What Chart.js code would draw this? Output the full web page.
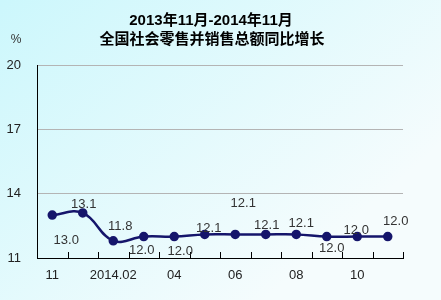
<!DOCTYPE html>
<html>
<head>
<meta charset="utf-8">
<script src="https://cdn.jsdelivr.net/npm/chart.js@4/dist/chart.umd.min.js"></script>
<style>
  html, body { margin: 0; padding: 0; background: #fff; }
  #chart { display: block; }
</style>
</head>
<body>
<canvas id="chart" width="441" height="300"></canvas>
<script>
// 2013.11 - 2014.11 months (1-2 merged as 2014.02)
const months = ['11', '12', '2014.02', '03', '04', '05', '06', '07', '08', '09', '10', '11'];
const growth = [13.0, 13.1, 11.8, 12.0, 12.0, 12.1, 12.1, 12.1, 12.1, 12.0, 12.0, 12.0];
const yTicks = [11, 14, 17, 20];
const titleLines = ['2013年11月-2014年11月', '全国社会零售并销售总额同比增长'];

// where each value label sits relative to its point
const labelOffsets = [[14, 25], [1, -9], [7, -14], [-2, 14], [6, 15], [4, -6],
                      [8, -31], [1, -9], [5, -11], [5, 12], [-1, -6], [8, -15]];

const LINE = '#15156b';
const FONT = '"Liberation Sans", Arial, "Noto Sans CJK SC", sans-serif';

const backdrop = {
  id: 'backdrop',
  beforeDraw(chart) {
    const ctx = chart.ctx;
    const g = ctx.createLinearGradient(0, 0, chart.width * 0.6, chart.height);
    g.addColorStop(0, 'rgb(204,247,252)');
    g.addColorStop(1, 'rgb(245,252,253)');
    ctx.save();
    ctx.fillStyle = g;
    ctx.fillRect(0, 0, chart.width, chart.height);
    // title
    ctx.fillStyle = '#000';
    ctx.textAlign = 'center';
    ctx.textBaseline = 'middle';
    ctx.font = 'bold 15px ' + FONT;
    ctx.fillText(titleLines[0], 211, 21);
    ctx.fillText(titleLines[1], 212, 40);
    ctx.font = '12px ' + FONT;
    ctx.fillStyle = '#333';
    ctx.fillText('%', 16, 40);
    ctx.restore();
  }
};

const extras = {
  id: 'extras',
  afterDatasetsDraw(chart) {
    const ctx = chart.ctx;
    const x = chart.scales.x;
    const area = chart.chartArea;
    ctx.save();
    // inner tick marks at category boundaries
    ctx.strokeStyle = '#000';
    ctx.lineWidth = 1;
    const step = (x.getPixelForValue(1) - x.getPixelForValue(0));
    for (let i = 0; i < months.length; i++) {
      const px = Math.round(x.getPixelForValue(i) + step / 2) + 0.5;
      ctx.beginPath();
      ctx.moveTo(px, area.bottom);
      ctx.lineTo(px, area.bottom - 6);
      ctx.stroke();
    }
    // value labels
    const meta = chart.getDatasetMeta(0);
    ctx.fillStyle = '#333';
    ctx.font = '13px ' + FONT;
    ctx.textAlign = 'center';
    ctx.textBaseline = 'middle';
    meta.data.forEach((pt, i) => {
      const off = labelOffsets[i];
      ctx.fillText(growth[i].toFixed(1), pt.x + off[0], pt.y + off[1]);
    });
    ctx.restore();
  }
};

new Chart(document.getElementById('chart'), {
  type: 'line',
  data: {
    labels: months,
    datasets: [{
      data: growth,
      borderColor: LINE,
      backgroundColor: LINE,
      borderWidth: 2.5,
      pointRadius: 3.5,
      pointHoverRadius: 3.5,
      tension: 0.4,
      fill: false
    }]
  },
  options: {
    responsive: false,
    animation: false,
    layout: { padding: { top: 65, right: 38, left: 0, bottom: 0 } },
    plugins: {
      legend: { display: false },
      title: { display: false },
      tooltip: { enabled: false }
    },
    scales: {
      x: {
        offset: true,
        grid: { display: false, drawTicks: false },
        border: { color: '#000', width: 1 },
        afterFit(scale) { scale.height = 42; },
        ticks: {
          color: '#222',
          font: { size: 13, family: FONT },
          padding: 10,
          maxRotation: 0,
          autoSkip: false,
          callback(v, i) { return i % 2 === 0 ? months[i] : ''; }
        }
      },
      y: {
        min: 11,
        max: 20,
        afterBuildTicks(scale) { scale.ticks = yTicks.map(v => ({ value: v })); },
        afterFit(scale) { scale.width = 37; },
        grid: {
          drawTicks: false,
          color(c) { return c.tick && c.tick.value === 11 ? 'rgba(0,0,0,0)' : '#b4b4b4'; }
        },
        border: { color: '#000', width: 1 },
        ticks: {
          color: '#222',
          font: { size: 13, family: FONT },
          padding: 16
        }
      }
    }
  },
  plugins: [backdrop, extras]
});
</script>
</body>
</html>
